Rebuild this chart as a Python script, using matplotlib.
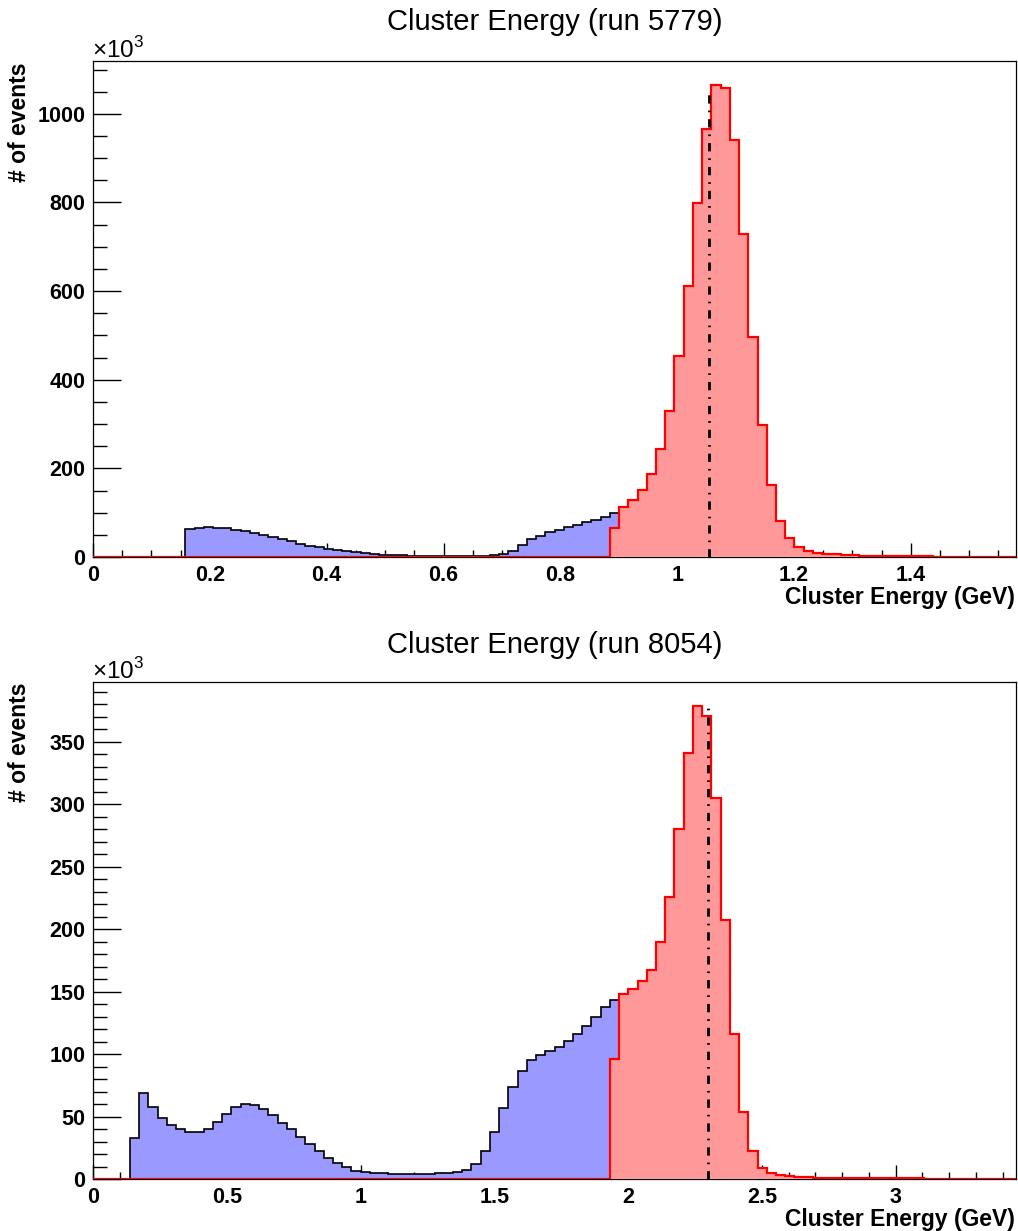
import numpy as np
import matplotlib
matplotlib.use("Agg")
from matplotlib import pyplot as plt
from matplotlib.ticker import MultipleLocator, FuncFormatter

plt.rcParams['font.family'] = ['Liberation Sans', 'DejaVu Sans']
plt.rcParams['mathtext.fontset'] = 'custom'
plt.rcParams['mathtext.rm'] = 'Liberation Sans'
plt.rcParams['mathtext.bf'] = 'Liberation Sans:bold'

# run 5779: 100 bins, 0 - 1.58 GeV, counts in thousands
n_bins = 100
xmax_5779 = 1.58
# all clusters, bins 0..56
blue_5779 = [0, 0, 0, 0, 0, 0, 0, 0, 0, 0,
             64, 66, 68, 66.5, 64.5, 62, 59, 55, 50.5, 46,
             41, 35.5, 30, 25.5, 22, 18, 15, 13, 10.5, 8.5,
             7, 5.5, 4.5, 3.8, 3.2, 2.8, 2.5, 2.3, 2.1, 2.0,
             2.0, 2.2, 2.8, 4.5, 7.5, 13, 26.5, 40, 47.5, 56,
             61, 68, 73, 78, 84, 90, 100]
# selected clusters, bins 56..99
red_start_5779 = 56
red_5779 = [66.5, 112, 128, 152, 187, 244, 330, 453, 611, 798,
            966, 1066, 1058, 940, 728, 497, 299, 162, 81, 42,
            22, 14.5, 10, 7.5, 6, 4.5, 3.8, 3, 2.5, 2.2,
            2, 1.7, 1.5, 1.3, 1.2, 1.0, 0.9, 0.8, 0.8, 0.7,
            0.7, 0.6, 0.6, 0.5]
mean_5779 = 1.055
mean_h_5779 = 1057

# run 8054: 100 bins, 0 - 3.45 GeV
xmax_8054 = 3.45
blue_8054 = [0, 0, 0, 0, 33, 68.5, 58, 49, 43, 39.7,
             37.5, 37.3, 40, 45.8, 52.3, 57.6, 60.3, 59.5, 56, 51,
             44.8, 39.7, 33.8, 28.1, 22.5, 17.2, 12.9, 9.6, 6.7, 5.6,
             4.8, 4.5, 4.4, 4.3, 4.3, 4.3, 4.4, 4.6, 5.0, 5.6,
             7.2, 12.3, 22.5, 37.8, 56.8, 74, 86.3, 94.9, 98.9, 102.6,
             106, 110.4, 116.3, 122.5, 129.4, 137.5, 143.6]
red_start_8054 = 56
red_8054 = [96, 148.5, 152, 158.5, 167, 189.5, 226, 280, 341, 379,
            370.5, 305, 207, 116, 54, 22.5, 9.2, 5, 3, 2.1,
            1.6, 1.3, 1.1, 1.1, 1.0, 0.9, 0.9, 0.8, 0.8, 0.7,
            0.6, 0.6, 0.5, 0.5, 0.4, 0.4, 0.3, 0.3, 0.3, 0.3,
            0.2, 0.2, 0.2, 0.2]
mean_8054 = 2.30
mean_h_8054 = 377


def fill_bins(vals, start):
    out = np.zeros(n_bins)
    out[start:start + len(vals)] = vals
    return out


def fmt(v, pos):
    return '%g' % v


def draw_panel(ax, xmax, blue, red, red_start, mean, mean_h,
               xmaj, xmin, ymaj, ymin, ytop_major):
    edges = np.linspace(0, xmax, n_bins + 1)
    b = fill_bins(blue, 0)
    r = fill_bins(red, red_start)
    ax.stairs(b, edges, fill=True, color='#9999ff', zorder=3)
    ax.stairs(b, edges, color='black', linewidth=1.2, zorder=3)
    ax.stairs(r, edges, fill=True, color='#ff9999', zorder=4)
    ax.stairs(r, edges, color='red', linewidth=1.6, zorder=4)
    ax.plot([mean, mean], [0, mean_h], color='black', linewidth=2,
            linestyle=(0, (3, 2.5, 0.6, 2.5)), zorder=5)

    ymax = 1.05 * max(r.max(), b.max())
    ax.set_xlim(0, xmax)
    ax.set_ylim(0, ymax)
    ax.xaxis.set_major_locator(MultipleLocator(xmaj))
    ax.xaxis.set_minor_locator(MultipleLocator(xmin))
    ax.yaxis.set_major_locator(MultipleLocator(ymaj))
    ax.yaxis.set_minor_locator(MultipleLocator(ymin))
    ax.xaxis.set_major_formatter(FuncFormatter(fmt))
    ax.yaxis.set_major_formatter(FuncFormatter(
        lambda v, p: '%g' % v if v <= ytop_major else ''))
    ax.tick_params(axis='both', which='both', direction='in',
                   top=False, right=False, width=1.0)
    ax.tick_params(axis='y', which='major', length=20.5, pad=5.5)
    ax.tick_params(axis='y', which='minor', length=10.3)
    ax.tick_params(axis='x', which='major', length=10, pad=5.5)
    ax.tick_params(axis='x', which='minor', length=5)
    for lab in ax.get_xticklabels() + ax.get_yticklabels():
        lab.set_fontweight('bold')
        lab.set_fontsize(15.5)
    for s in ax.spines.values():
        s.set_linewidth(0.9)


W, H = 1018, 1231
fig = plt.figure(figsize=(W / 100, H / 100), dpi=100)

ax1 = fig.add_axes([93 / W, (H - 557) / H, 923 / W, 496 / H])
draw_panel(ax1, xmax_5779, blue_5779, red_5779, red_start_5779,
           mean_5779, mean_h_5779, 0.2, 0.05, 200, 50, 1000)

ax2 = fig.add_axes([93 / W, (H - 1179) / H, 923 / W, 497 / H])
draw_panel(ax2, xmax_8054, blue_8054, red_8054, red_start_8054,
           mean_8054, mean_h_8054, 0.5, 0.1, 50, 10, 350)

# titles, axis labels, exponent
for title, ty in [('Cluster Energy (run 5779)', 22),
                  ('Cluster Energy (run 8054)', 645)]:
    fig.text(555 / W, 1 - ty / H, title, ha='center', va='center',
             fontsize=21)
for xy in [604, 1226]:
    fig.text(1015 / W, 1 - xy / H, 'Cluster Energy (GeV)', ha='right',
             va='baseline', fontsize=16.5, fontweight='bold')
for yt in [62, 683]:
    fig.text(20 / W, 1 - yt / H, '# of events', rotation=90, ha='center',
             va='top', fontsize=16.5, fontweight='bold')
    fig.text(92 / W, 1 - (yt - 4) / H, r'$\times$10$^{3}$', ha='left',
             va='baseline', fontsize=17.5)

fig.savefig('out.png', dpi=100)
